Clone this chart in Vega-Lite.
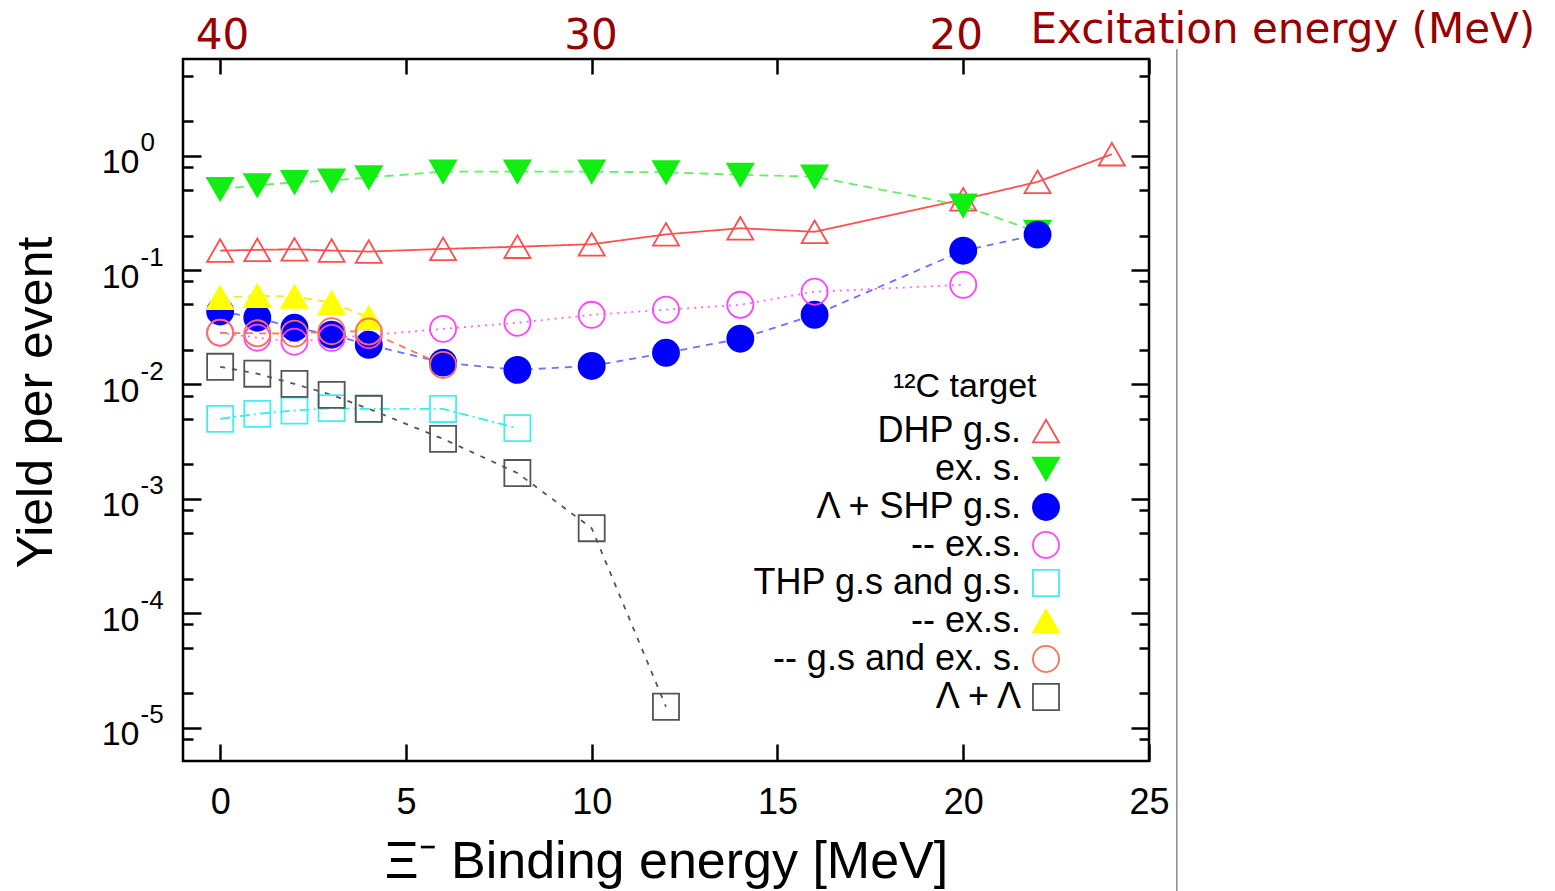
{
  "$schema": "https://vega.github.io/schema/vega-lite/v6.json",
  "autosize": {"type": "none"},
  "width": 966,
  "height": 702,
  "padding": {"left": 183, "top": 59, "right": 406, "bottom": 130},
  "background": "white",
  "config": {
    "view": {"stroke": "black", "strokeWidth": 2.5},
    "axis": {"grid": false, "domain": false, "labelFont": "Liberation Sans", "titleFont": "Liberation Sans", "titleFontWeight": "normal", "labelColor": "black", "titleColor": "black", "tickColor": "black", "tickWidth": 2.5, "labelOverlap": false, "labelFlush": false},
    "legend": {"labelFont": "Liberation Sans", "labelFontSize": 36, "labelColor": "black", "titleFont": "Liberation Sans", "titleFontSize": 34, "titleFontWeight": "normal", "titleColor": "black", "titleLimit": 400, "labelLimit": 400}
  },
  "datasets": {
    "pts": [
      {"s": "A", "x": 0, "y": 0.148}, {"s": "A", "x": 1, "y": 0.15}, {"s": "A", "x": 2, "y": 0.152}, {"s": "A", "x": 3, "y": 0.148}, {"s": "A", "x": 4, "y": 0.145}, {"s": "A", "x": 6, "y": 0.153}, {"s": "A", "x": 8, "y": 0.16}, {"s": "A", "x": 10, "y": 0.168}, {"s": "A", "x": 12, "y": 0.205}, {"s": "A", "x": 14, "y": 0.232}, {"s": "A", "x": 16, "y": 0.216}, {"s": "A", "x": 20, "y": 0.415}, {"s": "A", "x": 22, "y": 0.59}, {"s": "A", "x": 24, "y": 1.03},
      {"s": "B", "x": 0, "y": 0.51}, {"s": "B", "x": 1, "y": 0.55}, {"s": "B", "x": 2, "y": 0.585}, {"s": "B", "x": 3, "y": 0.605}, {"s": "B", "x": 4, "y": 0.645}, {"s": "B", "x": 6, "y": 0.725}, {"s": "B", "x": 8, "y": 0.725}, {"s": "B", "x": 10, "y": 0.725}, {"s": "B", "x": 12, "y": 0.715}, {"s": "B", "x": 14, "y": 0.68}, {"s": "B", "x": 16, "y": 0.655}, {"s": "B", "x": 20, "y": 0.365}, {"s": "B", "x": 22, "y": 0.215},
      {"s": "C", "x": 0, "y": 0.0434}, {"s": "C", "x": 1, "y": 0.0383}, {"s": "C", "x": 2, "y": 0.0313}, {"s": "C", "x": 3, "y": 0.0272}, {"s": "C", "x": 4, "y": 0.0222}, {"s": "C", "x": 6, "y": 0.0155}, {"s": "C", "x": 8, "y": 0.0134}, {"s": "C", "x": 10, "y": 0.0145}, {"s": "C", "x": 12, "y": 0.0189}, {"s": "C", "x": 14, "y": 0.0251}, {"s": "C", "x": 16, "y": 0.0406}, {"s": "C", "x": 20, "y": 0.1476}, {"s": "C", "x": 22, "y": 0.204},
      {"s": "D", "x": 0, "y": 0.0283}, {"s": "D", "x": 1, "y": 0.0256}, {"s": "D", "x": 2, "y": 0.0236}, {"s": "D", "x": 3, "y": 0.0255}, {"s": "D", "x": 4, "y": 0.027}, {"s": "D", "x": 6, "y": 0.0306}, {"s": "D", "x": 8, "y": 0.0346}, {"s": "D", "x": 10, "y": 0.0406}, {"s": "D", "x": 12, "y": 0.045}, {"s": "D", "x": 14, "y": 0.0497}, {"s": "D", "x": 16, "y": 0.0646}, {"s": "D", "x": 20, "y": 0.0743},
      {"s": "E", "x": 0, "y": 0.005}, {"s": "E", "x": 1, "y": 0.00553}, {"s": "E", "x": 2, "y": 0.00591}, {"s": "E", "x": 3, "y": 0.0062}, {"s": "E", "x": 4, "y": 0.0061}, {"s": "E", "x": 6, "y": 0.0061}, {"s": "E", "x": 8, "y": 0.00415},
      {"s": "F", "x": 0, "y": 0.0573}, {"s": "F", "x": 1, "y": 0.0596}, {"s": "F", "x": 2, "y": 0.0585}, {"s": "F", "x": 3, "y": 0.0518}, {"s": "F", "x": 4, "y": 0.0383},
      {"s": "G", "x": 0, "y": 0.0283}, {"s": "G", "x": 1, "y": 0.028}, {"s": "G", "x": 2, "y": 0.0278}, {"s": "G", "x": 3, "y": 0.0292}, {"s": "G", "x": 4, "y": 0.029}, {"s": "G", "x": 6, "y": 0.0148},
      {"s": "H", "x": 0, "y": 0.01426}, {"s": "H", "x": 1, "y": 0.0124}, {"s": "H", "x": 2, "y": 0.0101}, {"s": "H", "x": 3, "y": 0.0081}, {"s": "H", "x": 4, "y": 0.00612}, {"s": "H", "x": 6, "y": 0.00334}, {"s": "H", "x": 8, "y": 0.00168}, {"s": "H", "x": 10, "y": 0.000553}, {"s": "H", "x": 12, "y": 0.0000152}
    ]
  },
  "resolve": {"axis": {"x": "independent", "y": "independent"}},
  "layer": [
    {
      "data": {"name": "pts"},
      "mark": {"type": "line", "strokeWidth": 1.8},
      "encoding": {
        "x": {"field": "x", "type": "quantitative", "scale": {"domain": [-1, 25], "nice": false, "zero": false},
          "axis": {"orient": "bottom", "values": [0, 5, 10, 15, 20, 25], "tickSize": -17, "labelFontSize": 36, "labelPadding": 69, "labelBaseline": "alphabetic", "title": "Ξ⁻ Binding energy [MeV]", "titleFontSize": 52, "titleY": 116, "titleBaseline": "alphabetic"}},
        "y": {"field": "y", "type": "quantitative", "scale": {"type": "log", "domain": [0.0000051, 7], "nice": false},
          "axis": {"orient": "left", "values": [0.00001, 0.0001, 0.001, 0.01, 0.1, 1], "tickSize": -18, "labelExpr": "'10'", "labelFontSize": 34, "labelPadding": 62, "labelBaseline": "alphabetic", "labelOffset": 17, "title": "Yield per event", "titleFontSize": 50, "titleX": -132, "titleY": 343, "titleAlign": "center", "titleBaseline": "alphabetic", "titleAngle": 270}},
        "color": {"field": "s", "type": "nominal", "legend": null, "scale": {"range": ["#ff5050", "#66ee66", "#6f6fff", "#ff66ff", "#33eeee", "#eeee22", "#ff7755", "#555555"]}},
        "strokeDash": {"field": "s", "type": "nominal", "legend": null, "scale": {"range": [[1, 0], [9, 6], [7, 6], [2, 5], [10, 4, 2, 4], [8, 6], [7, 6], [5, 7]]}}
      }
    },
    {
      "data": {"name": "pts"},
      "mark": {"type": "point", "opacity": 1, "size": 680, "strokeWidth": 1.8},
      "encoding": {
        "x": {"field": "x", "type": "quantitative", "scale": {"domain": [-1, 25], "nice": false, "zero": false},
          "axis": {"orient": "top", "values": [0, 5, 10, 15, 20, 25], "tickSize": -15, "labels": false, "title": "Excitation energy (MeV)", "titleFont": "DejaVu Sans", "titleFontSize": 42, "titleColor": "#990000", "titleX": 847, "titleY": -17, "titleAlign": "left", "titleBaseline": "alphabetic", "titleAngle": 0}},
        "y": {"field": "y", "type": "quantitative", "scale": {"type": "log", "domain": [0.0000051, 7], "nice": false},
          "axis": {"orient": "left", "values": [0.00001, 0.0001, 0.001, 0.01, 0.1, 1], "ticks": false, "tickSize": 0, "labelExpr": "'' + round(log(datum.value) / LN10)", "labelFontSize": 26, "labelPadding": 43, "labelAlign": "left", "labelBaseline": "alphabetic", "labelOffset": -5, "title": null}},
        "shape": {"field": "s", "type": "nominal", "scale": {"domain": ["A", "B", "C", "D", "E", "F", "G", "H"], "range": ["triangle-up", "triangle-down", "circle", "circle", "square", "triangle-up", "circle", "square"]},
          "legend": {"orient": "none", "legendX": 701, "legendY": 311, "padding": 0, "labelAlign": "right", "labelOffset": -43, "rowPadding": 2, "symbolSize": 680, "symbolStrokeWidth": 1.8, "title": "¹²C  target\u2002\u00a0\u200b", "titleAnchor": "end", "titleAlign": "right", "titlePadding": 9,
            "labelExpr": "datum.label == 'A' ? 'DHP g.s.' : datum.label == 'B' ? 'ex. s.' : datum.label == 'C' ? 'Λ + SHP g.s.' : datum.label == 'D' ? '-- ex.s.' : datum.label == 'E' ? 'THP g.s and g.s.' : datum.label == 'F' ? '-- ex.s.' : datum.label == 'G' ? '-- g.s and ex. s.' : 'Λ + Λ'"}},
        "fill": {"field": "s", "type": "nominal", "scale": {"domain": ["A", "B", "C", "D", "E", "F", "G", "H"], "range": ["transparent", "#11ee11", "#0000ff", "transparent", "transparent", "#ffff00", "transparent", "transparent"]}},
        "stroke": {"field": "s", "type": "nominal", "scale": {"domain": ["A", "B", "C", "D", "E", "F", "G", "H"], "range": ["#ff4d4d", "#11ee11", "#0000ff", "#ff44ff", "#40f0f0", "#ffff00", "#ff7050", "#555555"]}}
      }
    },
    {
      "data": {"name": "pts"},
      "mark": {"type": "point", "opacity": 0},
      "encoding": {
        "x": {"field": "x", "type": "quantitative", "scale": {"domain": [-1, 25], "nice": false, "zero": false},
          "axis": {"orient": "top", "values": [0.05, 9.97, 19.8], "ticks": false, "tickSize": 0, "labelExpr": "datum.value < 5 ? '40' : datum.value < 15 ? '30' : '20'", "labelFont": "DejaVu Sans", "labelFontSize": 42, "labelColor": "#990000", "labelPadding": 11, "labelBaseline": "alphabetic", "title": null}},
        "y": {"field": "y", "type": "quantitative", "scale": {"type": "log", "domain": [0.0000051, 7], "nice": false},
          "axis": {"orient": "left", "values": [0.000008, 0.00002, 0.00005, 0.00008, 0.0002, 0.0005, 0.0008, 0.002, 0.005, 0.008, 0.02, 0.05, 0.08, 0.2, 0.5, 0.8, 2, 5], "tickSize": -10, "labels": false, "title": null}}
      }
    },
    {
      "data": {"name": "pts"},
      "mark": {"type": "point", "opacity": 0},
      "encoding": {
        "x": {"field": "x", "type": "quantitative", "scale": {"domain": [-1, 25], "nice": false, "zero": false}, "axis": null},
        "y": {"field": "y", "type": "quantitative", "scale": {"type": "log", "domain": [0.0000051, 7], "nice": false},
          "axis": {"orient": "right", "values": [0.00001, 0.0001, 0.001, 0.01, 0.1, 1], "tickSize": -18, "labels": false, "title": null}}
      }
    },
    {
      "data": {"name": "pts"},
      "mark": {"type": "point", "opacity": 0},
      "encoding": {
        "x": {"field": "x", "type": "quantitative", "scale": {"domain": [-1, 25], "nice": false, "zero": false}, "axis": null},
        "y": {"field": "y", "type": "quantitative", "scale": {"type": "log", "domain": [0.0000051, 7], "nice": false},
          "axis": {"orient": "right", "values": [0.000008, 0.00002, 0.00005, 0.00008, 0.0002, 0.0005, 0.0008, 0.002, 0.005, 0.008, 0.02, 0.05, 0.08, 0.2, 0.5, 0.8, 2, 5], "tickSize": -10, "labels": false, "title": null}}
      }
    },
    {
      "data": {"values": [{}]},
      "mark": {"type": "rule", "color": "#888888", "strokeWidth": 1.5},
      "encoding": {
        "x": {"datum": 25.75, "type": "quantitative", "axis": null},
        "y": {"datum": 8.5, "type": "quantitative", "axis": null},
        "y2": {"datum": 0.00000037}
      }
    }
  ]
}
